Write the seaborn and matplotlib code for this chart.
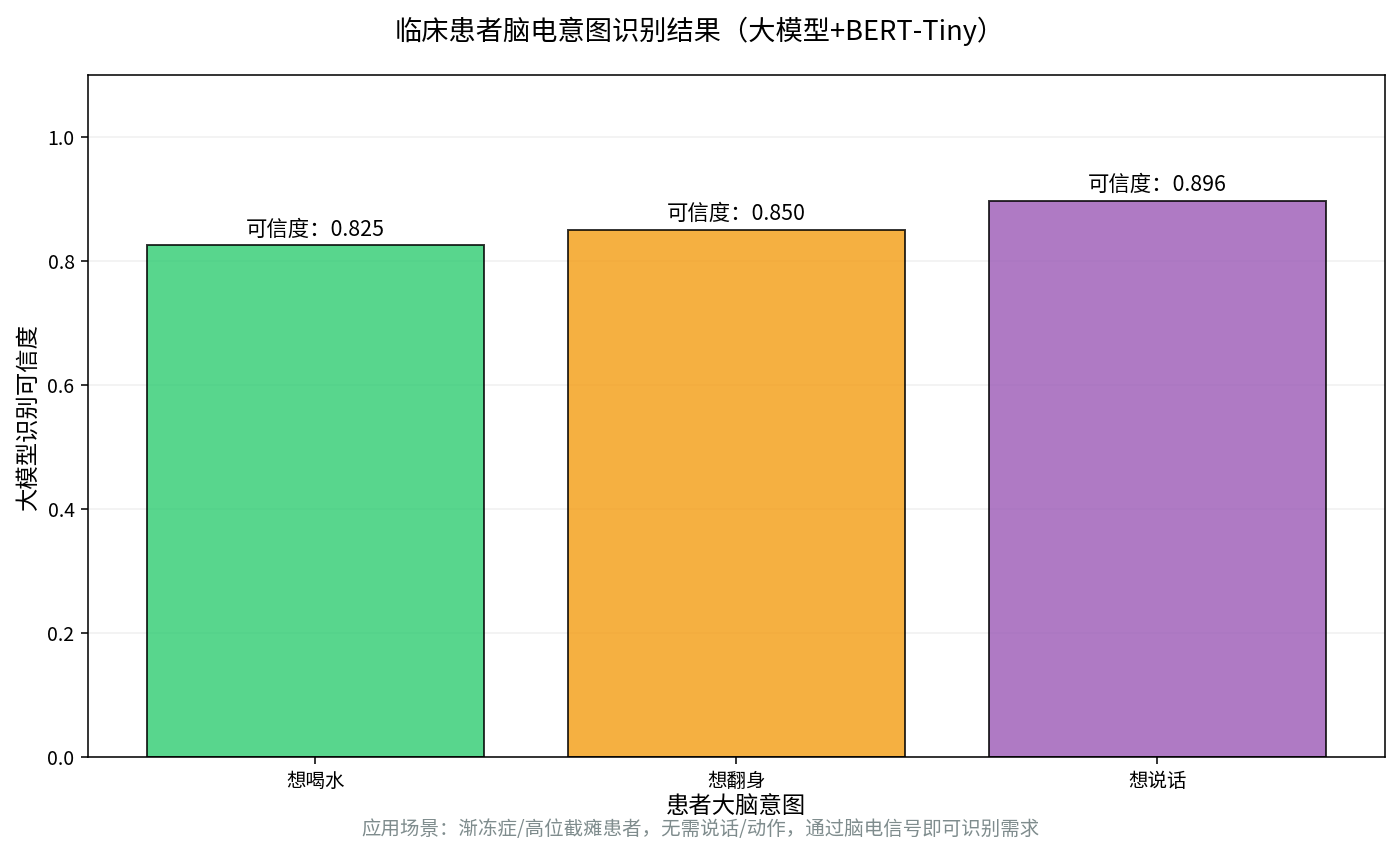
import matplotlib
matplotlib.use('Agg')
import matplotlib.pyplot as plt
import seaborn as sns
import pandas as pd

sns.set_style('white')
plt.rcParams['font.family'] = ['Noto Sans CJK SC', 'DejaVu Sans']
plt.rcParams['axes.unicode_minus'] = False
plt.rcParams['text.color'] = 'black'
plt.rcParams['axes.labelcolor'] = 'black'
plt.rcParams['xtick.color'] = 'black'
plt.rcParams['ytick.color'] = 'black'

# 数据
intents = ['想喝水', '想翻身', '想说话']
confidence = [0.825, 0.850, 0.896]
colors = ['#2ecc71', '#f39c12', '#9b59b6']

df = pd.DataFrame({'意图': intents, '可信度': confidence})

fig = plt.figure(figsize=(10, 850 / 140), dpi=140)
ax = fig.add_axes([0.063, 0.109, 0.926, 0.803])
sns.barplot(data=df, x='意图', y='可信度', hue='意图', palette=colors,
            saturation=1, alpha=0.8, edgecolor='black', linewidth=1,
            width=0.8, legend=False, ax=ax)

# 柱顶标注
for p, v in zip(ax.patches, confidence):
    ax.text(p.get_x() + p.get_width() / 2, v + 0.008, f'可信度：{v:.3f}',
            ha='center', va='bottom', fontsize=11)

ax.set_xlim(-0.54, 2.54)
ax.set_ylim(0, 1.1)
ax.set_yticks([0.0, 0.2, 0.4, 0.6, 0.8, 1.0])
ax.yaxis.grid(True, alpha=0.3)
ax.set_axisbelow(True)
for s in ax.spines.values():
    s.set_visible(True)
    s.set_color('black')
    s.set_linewidth(0.8)
ax.tick_params(axis='both', labelsize=10, length=3.5, width=0.8,
               direction='out', left=True, bottom=True)
ax.set_xlabel('患者大脑意图', fontsize=12, labelpad=2)
ax.set_ylabel('大模型识别可信度', fontsize=12)
fig.suptitle('临床患者脑电意图识别结果（大模型+BERT-Tiny）', fontsize=14, y=0.98)
fig.text(0.5, 0.018, '应用场景：渐冻症/高位截瘫患者，无需说话/动作，通过脑电信号即可识别需求',
         ha='center', fontsize=10, color='#7f8c8d')

fig.savefig('out.png', dpi=140)
